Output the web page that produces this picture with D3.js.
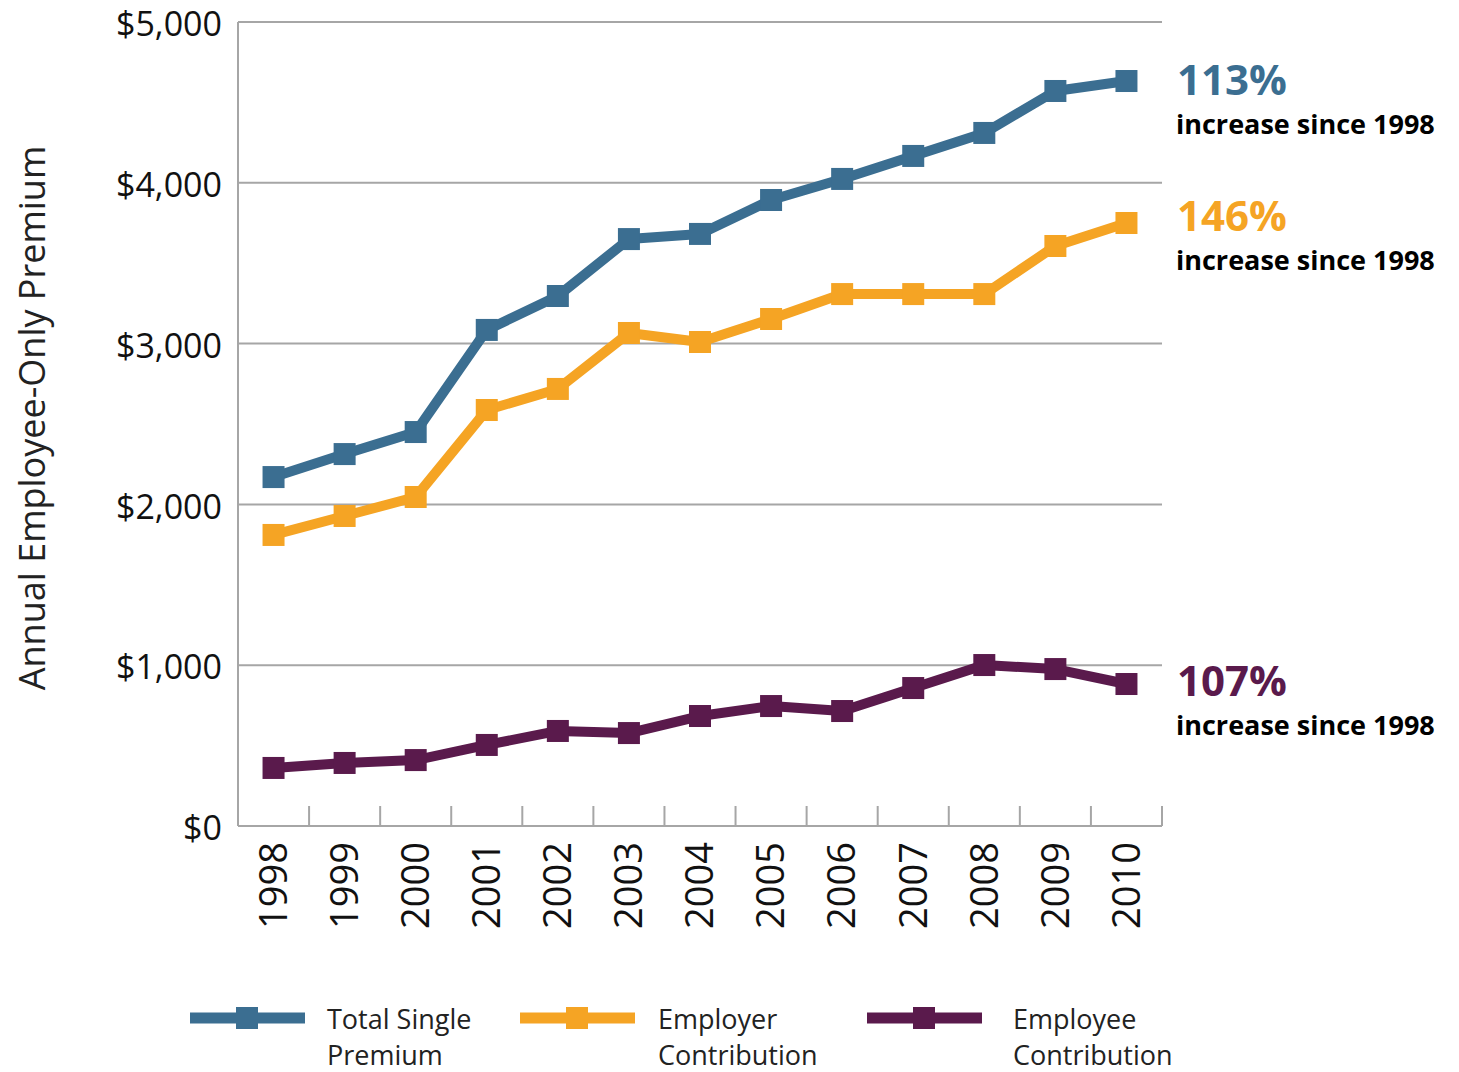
<!DOCTYPE html>
<html>
<head>
<meta charset="utf-8">
<script src="https://cdn.jsdelivr.net/npm/d3@7"></script>
<style>
  body { margin: 0; background: #fff; }
  svg text { font-family: "Open Sans", "Noto Sans", sans-serif; }
</style>
</head>
<body>
<svg id="chart" width="1459" height="1072"></svg>
<script>
'use strict';

var years = ['1998', '1999', '2000', '2001', '2002', '2003', '2004', '2005', '2006', '2007', '2008', '2009', '2010'];
var totalPremium = [2170, 2313, 2450, 3085, 3296, 3650, 3682, 3893, 4024, 4167, 4310, 4571, 4633];
var employerShare = [1810, 1928, 2046, 2587, 2718, 3066, 3010, 3153, 3308, 3308, 3308, 3607, 3750];
var employeeShare = [361, 392, 410, 504, 591, 578, 684, 746, 715, 858, 1001, 976, 883];
var yTicks = [0, 1000, 2000, 3000, 4000, 5000];
var seriesNames = [['Total Single', 'Premium'], ['Employer', 'Contribution'], ['Employee', 'Contribution']];
var seriesColors = ['#3b6e91', '#f5a424', '#5a1a4c'];
var increaseLabels = ['113%', '146%', '107%'];

var svg = d3.select('#chart');
var margin = { top: 22, right: 297, bottom: 246, left: 238 },
    width = 1459 - margin.left - margin.right,
    height = 1072 - margin.top - margin.bottom;

var g = svg.append('g').attr('transform', 'translate(' + margin.left + ',' + margin.top + ')');

var x = d3.scaleBand().domain(years).range([0, width]);
var y = d3.scaleLinear().domain([0, 5000]).range([height, 0]);

// gridlines
g.selectAll('.grid')
    .data(yTicks.filter(function (d) { return d > 0; }))
    .enter().append('line')
    .attr('x1', 0).attr('x2', width)
    .attr('y1', function (d) { return y(d); })
    .attr('y2', function (d) { return y(d); })
    .attr('stroke', '#a6a6a6').attr('stroke-width', 2);

// axes lines
g.append('line').attr('x1', 0).attr('x2', 0).attr('y1', 0).attr('y2', height)
    .attr('stroke', '#a6a6a6').attr('stroke-width', 2);
g.append('line').attr('x1', 0).attr('x2', width).attr('y1', height).attr('y2', height)
    .attr('stroke', '#a6a6a6').attr('stroke-width', 2);

// x ticks at band boundaries
var bounds = years.slice(1).map(function (d) { return x(d); }).concat([width]);
g.selectAll('.xtick').data(bounds).enter().append('line')
    .attr('x1', function (d) { return d; }).attr('x2', function (d) { return d; })
    .attr('y1', height - 20).attr('y2', height)
    .attr('stroke', '#a6a6a6').attr('stroke-width', 2);

// y labels
var fmt = d3.format('$,');
g.selectAll('.ylab').data(yTicks).enter().append('text')
    .attr('x', -16).attr('y', function (d) { return y(d); })
    .attr('dy', '0.42em')
    .attr('text-anchor', 'end')
    .attr('font-size', 34)
    .attr('fill', '#111')
    .text(function (d) { return fmt(d); });

// x labels rotated
g.selectAll('.xlab').data(years).enter().append('text')
    .attr('transform', function (d) {
        return 'translate(' + (x(d) + x.bandwidth() / 2) + ',' + (height + 16) + ') rotate(-90)';
    })
    .attr('dy', '0.35em')
    .attr('text-anchor', 'end')
    .attr('font-size', 38)
    .attr('fill', '#111')
    .text(function (d) { return d; });

// y axis title
svg.append('text')
    .attr('transform', 'translate(32,' + 418 + ') rotate(-90)')
    .attr('text-anchor', 'middle')
    .attr('dy', '0.35em')
    .attr('font-size', 36)
    .attr('fill', '#222')
    .text('Annual Employee-Only Premium');

var allSeries = [totalPremium, employerShare, employeeShare];
var line = d3.line()
    .x(function (d, i) { return x(years[i]) + x.bandwidth() / 2; })
    .y(function (d) { return y(d); });

allSeries.forEach(function (values, s) {
    g.append('path')
        .attr('d', line(values))
        .attr('fill', 'none')
        .attr('stroke', seriesColors[s])
        .attr('stroke-width', 10)
        .attr('stroke-linejoin', 'round');
    g.selectAll('.m' + s).data(values).enter().append('rect')
        .attr('x', function (d, i) { return x(years[i]) + x.bandwidth() / 2 - 11; })
        .attr('y', function (d) { return y(d) - 11; })
        .attr('width', 22).attr('height', 22)
        .attr('fill', seriesColors[s]);
});

// annotations
var annoY = [95, 231, 696];
increaseLabels.forEach(function (lab, s) {
    svg.append('text')
        .attr('x', 1177).attr('y', annoY[s])
        .attr('font-size', 42).attr('font-weight', 'bold')
        .attr('fill', seriesColors[s])
        .text(lab);
    svg.append('text')
        .attr('x', 1176).attr('y', annoY[s] + 39)
        .attr('font-size', 27).attr('font-weight', 'bold')
        .attr('fill', '#000')
        .text('increase since 1998');
});

// legend
var legendX = [190, 520, 867];
var legendTextX = [327, 658, 1013];
seriesNames.forEach(function (names, s) {
    var lg = svg.append('g').attr('transform', 'translate(' + legendX[s] + ',1018)');
    lg.append('line').attr('x1', 0).attr('x2', 115).attr('y1', 0).attr('y2', 0)
        .attr('stroke', seriesColors[s]).attr('stroke-width', 11);
    lg.append('rect').attr('x', 46).attr('y', -11).attr('width', 22).attr('height', 22)
        .attr('fill', seriesColors[s]);
    names.forEach(function (n, k) {
        lg.append('text')
            .attr('x', legendTextX[s] - legendX[s]).attr('y', 11 + k * 36)
            .attr('font-size', 27)
            .attr('fill', '#222')
            .text(n);
    });
});
</script>
</body>
</html>
